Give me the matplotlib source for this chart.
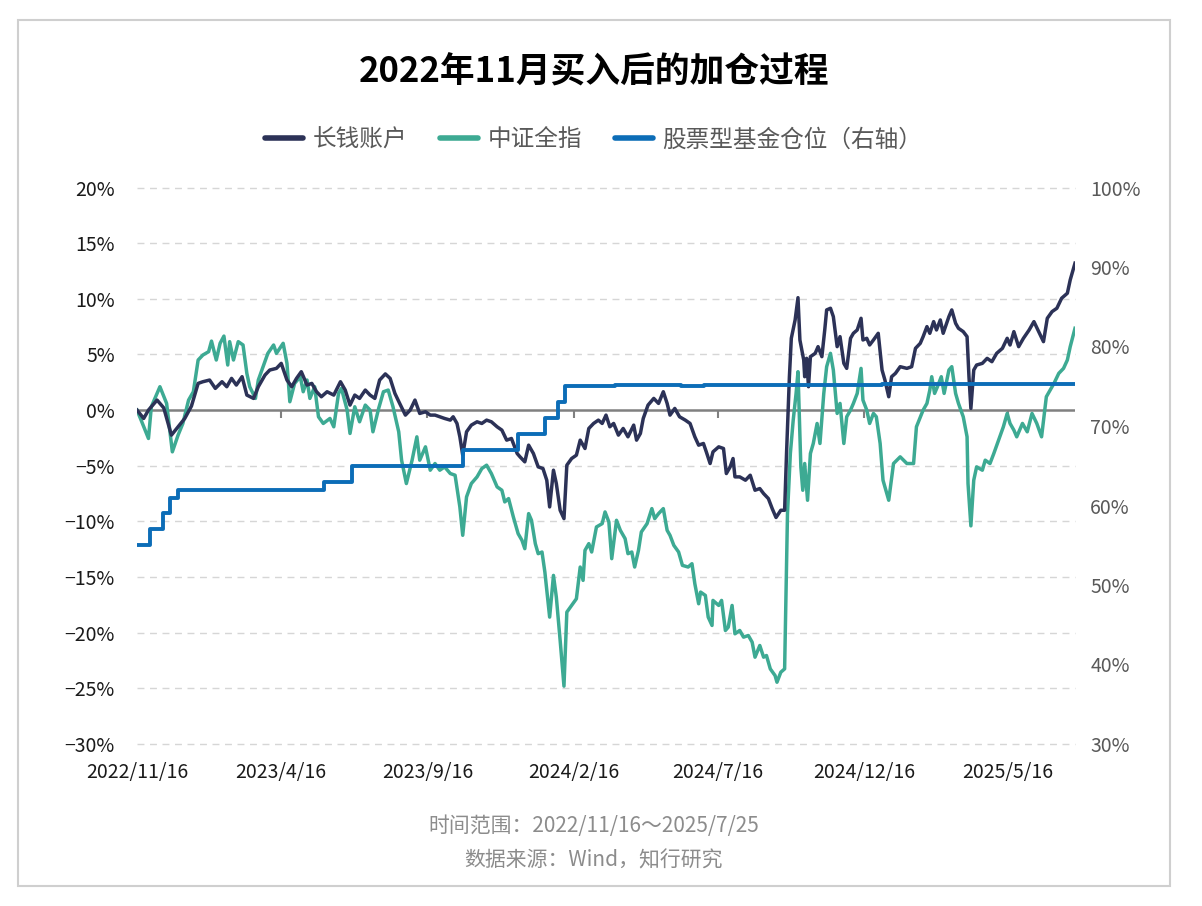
import numpy as np
import matplotlib
matplotlib.use("Agg")
import matplotlib.pyplot as plt
from matplotlib.patches import Rectangle

plt.rcParams["font.family"] = ["Noto Sans CJK SC", "DejaVu Sans"]

START = np.datetime64("2022-11-16")

# 长钱账户: days since 2022/11/16 and cumulative return (%)
acct_day = [0, 7, 12, 21, 28, 36, 43, 50, 57, 64, 69, 76, 82, 89, 94, 99, 104, 110, 115, 122,
            127, 134, 139, 146, 151, 157, 162, 167, 172, 178, 183, 188, 193, 199, 206, 213, 218, 223, 228, 233,
            239, 244, 249, 254, 260, 265, 270, 275, 281, 286, 291, 296, 302, 307, 312, 317, 322, 328, 331, 335,
            338, 341, 345, 350, 356, 361, 366, 371, 377, 382, 387, 392, 398, 401, 406, 410, 415, 420, 425, 429,
            432, 436, 439, 443, 447, 450, 455, 460, 464, 469, 473, 478, 483, 487, 491, 495, 499, 504, 509, 514,
            520, 523, 527, 530, 535, 541, 546, 551, 555, 558, 563, 568, 574, 579, 584, 588, 593, 596, 600, 603,
            609, 614, 617, 621, 624, 626, 631, 637, 642, 647, 652, 656, 661, 665, 669, 674, 678, 680, 683, 685,
            689, 692, 694, 698, 699, 701, 703, 705, 710, 713, 717, 720, 722, 726, 729, 733, 736, 740, 743, 747,
            750, 754, 758, 760, 764, 767, 771, 776, 780, 783, 787, 790, 794, 799, 806, 811, 815, 820, 823, 827,
            830, 834, 837, 841, 844, 850, 853, 857, 860, 865, 869, 871, 873, 876, 879, 885, 890, 895, 900, 906,
            911, 914, 918, 923, 928, 934, 939, 944, 949, 953, 958, 963, 968, 974, 977, 982]
acct_ret = [0.0, -0.75, 0.0, 0.9, 0.2, -2.25, -1.5, -0.75, 0.36, 2.4, 2.55, 2.7, 1.95, 2.55, 2.1, 2.85, 2.25, 3.0, 1.35, 1.05,
            2.1, 3.15, 3.6, 3.75, 4.2, 2.7, 2.1, 2.85, 3.45, 2.25, 2.4, 1.65, 1.2, 1.65, 1.35, 2.55, 1.8, 0.45, 1.35, 1.05,
            1.8, 1.35, 1.05, 2.7, 3.25, 2.85, 1.5, 0.6, -0.45, 0.0, 0.9, -0.3, -0.15, -0.45, -0.45, -0.6, -0.75, -0.9, -0.6, -1.2,
            -2.4, -4.05, -1.95, -1.35, -1.05, -1.2, -0.9, -1.05, -1.5, -1.8, -2.7, -2.55, -3.9, -4.2, -4.65, -3.15, -3.9, -5.1, -5.25, -6.3,
            -8.7, -5.4, -6.6, -9.0, -9.75, -4.95, -4.35, -4.05, -2.7, -3.45, -1.65, -1.2, -0.9, -1.2, -0.45, -1.5, -1.2, -2.25, -1.65, -2.4,
            -1.35, -2.7, -2.1, -0.75, 0.45, 1.05, 0.6, 1.65, 0.6, -0.45, 0.15, -0.6, -0.9, -1.2, -2.4, -3.15, -3.0, -3.75, -4.8, -3.75,
            -3.3, -3.45, -5.7, -5.1, -4.35, -6.0, -6.0, -6.3, -5.85, -7.2, -7.05, -7.5, -7.95, -8.85, -9.65, -9.0, -9.0, -3.9, 3.0, 6.45,
            8.1, 10.1, 6.3, 4.5, 3.0, 4.65, 2.1, 4.8, 5.1, 5.7, 4.8, 7.2, 9.0, 9.15, 8.4, 5.7, 6.6, 4.2, 3.75, 6.45,
            6.9, 7.2, 8.25, 6.3, 6.45, 5.85, 6.3, 6.9, 3.6, 2.7, 1.2, 3.0, 3.3, 3.9, 3.75, 3.9, 5.55, 6.0, 6.6, 7.5,
            6.9, 7.95, 7.2, 8.1, 6.9, 8.4, 9.0, 7.8, 7.35, 7.05, 6.6, 3.0, 0.15, 3.6, 4.05, 4.2, 4.65, 4.35, 5.1, 5.55,
            6.45, 5.85, 7.05, 5.7, 6.45, 7.2, 7.95, 7.05, 6.15, 8.25, 8.85, 9.15, 10.05, 10.5, 11.7, 13.2]

# 中证全指: days since 2022/11/16 and cumulative return (%)
csi_day = [0, 5, 12, 15, 24, 31, 37, 43, 48, 54, 59, 64, 69, 75, 78, 83, 87, 91, 95, 97,
           101, 106, 111, 115, 118, 124, 127, 132, 137, 143, 146, 153, 157, 160, 165, 171, 174, 178, 181, 186,
           190, 195, 202, 206, 211, 214, 220, 223, 228, 233, 239, 244, 247, 253, 258, 263, 268, 274, 277, 282,
           288, 293, 296, 302, 307, 312, 317, 322, 328, 333, 338, 341, 345, 350, 356, 361, 366, 371, 377, 382,
           385, 389, 394, 399, 403, 406, 410, 413, 417, 420, 424, 427, 432, 436, 439, 443, 447, 450, 455, 460,
           464, 467, 469, 473, 476, 481, 487, 490, 494, 497, 502, 506, 511, 514, 518, 521, 525, 528, 534, 539,
           542, 546, 551, 555, 558, 562, 567, 571, 577, 581, 584, 588, 590, 595, 598, 602, 603, 609, 612, 616,
           619, 623, 626, 631, 635, 640, 644, 647, 652, 656, 659, 663, 668, 670, 674, 678, 681, 684, 687, 690,
           692, 695, 697, 699, 702, 705, 708, 712, 715, 719, 722, 726, 729, 733, 736, 740, 743, 747, 750, 754,
           758, 760, 764, 767, 771, 774, 778, 781, 787, 792, 799, 806, 813, 816, 823, 827, 830, 832, 835, 838,
           842, 845, 850, 853, 857, 860, 865, 869, 870, 873, 876, 879, 885, 888, 893, 897, 902, 907, 911, 914,
           918, 921, 927, 932, 937, 942, 947, 952, 956, 960, 965, 970, 974, 977, 982]
csi_ret = [0.0, -1.05, -2.55, 0.3, 2.1, 0.6, -3.75, -2.25, -1.2, 0.9, 1.65, 4.5, 4.95, 5.25, 6.2, 4.5, 6.0, 6.65, 4.05, 6.15,
           4.5, 6.15, 5.85, 3.3, 2.1, 1.05, 2.7, 3.9, 5.1, 5.85, 5.1, 6.0, 4.2, 0.75, 2.4, 3.0, 1.65, 2.7, 1.05, 2.1,
           -0.6, -1.2, -0.75, -1.5, 1.5, 1.95, 0.0, -2.1, 0.3, -1.05, 0.45, 0.0, -1.95, 0.15, 1.65, 1.8, 0.3, -1.95, -4.5, -6.6,
           -4.5, -2.4, -4.5, -3.3, -5.4, -4.8, -5.4, -5.1, -5.7, -5.85, -8.7, -11.25, -7.8, -6.6, -6.0, -5.25, -4.95, -5.7, -6.9, -7.2,
           -8.25, -7.95, -9.6, -11.1, -11.7, -12.45, -9.3, -9.9, -12.0, -12.9, -12.75, -14.55, -18.6, -14.85, -16.8, -20.7, -24.8, -18.15, -17.55, -16.95,
           -14.1, -15.3, -12.6, -12.0, -12.75, -10.5, -10.2, -9.15, -10.05, -13.35, -9.9, -10.8, -11.55, -12.9, -12.75, -14.1, -12.6, -10.95, -10.2, -8.85,
           -9.75, -9.3, -8.85, -10.8, -11.25, -12.15, -12.75, -13.95, -14.1, -13.8, -15.6, -17.4, -16.35, -16.65, -18.6, -19.35, -17.1, -17.55, -17.1, -19.8,
           -19.5, -17.55, -20.1, -19.8, -20.4, -20.25, -20.85, -22.2, -21.15, -22.2, -22.05, -23.25, -23.85, -24.45, -23.55, -23.25, -9.3, -3.9, -0.9, 1.5,
           3.45, -5.1, -7.2, -4.8, -8.1, -3.9, -3.0, -1.2, -3.0, 1.5, 3.9, 5.1, 3.6, -0.3, 0.6, -3.0, -0.6, 0.0, 0.6, 1.5,
           3.75, 0.9, 0.0, -1.2, -0.3, -0.6, -3.0, -6.3, -8.1, -4.8, -4.2, -4.8, -4.8, -1.5, 0.0, 0.6, 1.8, 3.0, 1.5, 2.1,
           3.0, 1.5, 3.6, 3.9, 1.5, 0.6, -0.6, -2.4, -6.6, -10.4, -6.3, -5.1, -5.4, -4.5, -4.8, -3.9, -2.7, -1.5, -0.3, -1.2,
           -1.8, -2.4, -1.2, -1.95, -0.3, -1.2, -2.4, 1.2, 1.8, 2.4, 3.3, 3.75, 4.5, 5.7, 7.35]

# 股票型基金仓位 (right axis, %)
pos_day = [0, 14, 27, 35, 43, 196, 225, 341, 399, 427, 441, 448, 500, 570, 594, 780, 982]
pos_val = [55, 57, 59, 61, 62, 63, 65, 67, 69, 71, 73, 75, 75.2, 75.0, 75.1, 75.3, 75.3]

tick_dates = ["2022-11-16", "2023-04-16", "2023-09-16", "2024-02-16", "2024-07-16", "2024-12-16", "2025-05-16"]
tick_labels = ["2022/11/16", "2023/4/16", "2023/9/16", "2024/2/16", "2024/7/16", "2024/12/16", "2025/5/16"]
left_ticks = [-30, -25, -20, -15, -10, -5, 0, 5, 10, 15, 20]
right_ticks = [30, 40, 50, 60, 70, 80, 90, 100]


def to_dates(days):
    return START + np.array(days).astype("timedelta64[D]")


fig = plt.figure(figsize=(12.02, 9.06), dpi=100)
fig.patches.append(Rectangle((18 / 1202, 20 / 906), 1152 / 1202, 866 / 906,
                             transform=fig.transFigure, fill=False,
                             edgecolor="#CFCFCF", linewidth=1.5))

ax1 = fig.add_axes([137 / 1202, 1 - 744 / 906, 938 / 1202, 556.5 / 906])
ax2 = ax1.twinx()

# grid and zero line
for v in left_ticks:
    if v != 0:
        ax1.axhline(v, color="#D6D6D6", linestyle=(0, (5, 4)), linewidth=1, zorder=0, clip_on=False)
ax1.axhline(0, color="#808080", linewidth=1.8, zorder=1)
tks = np.array(tick_dates, dtype="datetime64[D]")
ax1.vlines(tks[1:], -0.75, 0, color="#808080", linewidth=1.5, zorder=1)

l1, = ax1.plot(to_dates(acct_day), acct_ret, color="#2C3257", linewidth=2.5, zorder=3, label="长钱账户")
l2, = ax1.plot(to_dates(csi_day), csi_ret, color="#3DAA93", linewidth=2.5, zorder=2, label="中证全指")
l3, = ax2.plot(to_dates(pos_day), pos_val, color="#0C6DB7", linewidth=2.8, drawstyle="steps-post",
               label="股票型基金仓位（右轴）")

ax1.set_xlim(START, START + np.timedelta64(982, "D"))
ax1.set_ylim(-30, 20)
ax2.set_ylim(30, 100)

ax1.set_xticks(tks)
ax1.set_xticklabels(tick_labels, fontsize=14, color="#1A1A1A")
ax1.set_yticks(left_ticks)
ax1.set_yticklabels([f"{v}%".replace("-", "−") for v in left_ticks], fontsize=14, color="#1A1A1A")
ax2.set_yticks(right_ticks)
ax2.set_yticklabels([f"{v}%" for v in right_ticks], fontsize=14, color="#595959")

ax1.tick_params(axis="x", length=0, pad=13)
ax1.tick_params(axis="y", length=0, pad=16)
ax2.tick_params(axis="y", length=0, pad=11)
for ax in (ax1, ax2):
    for s in ax.spines.values():
        s.set_visible(False)

fig.text(0.494, 1 - 72 / 906, "2022年11月买入后的加仓过程", ha="center", va="center",
         fontsize=25, fontweight="bold", color="#000000")

leg = fig.legend(handles=[l1, l2, l3], loc="center", bbox_to_anchor=(0.494, 1 - 140 / 906),
                 ncol=3, frameon=False, fontsize=17, handlelength=1.6, handletextpad=0.4,
                 columnspacing=1.4)
for t in leg.get_texts():
    t.set_color("#595959")
for h in leg.legend_handles:
    h.set_linewidth(4)
    h.set_solid_capstyle("round")

fig.text(0.494, 1 - 826 / 906, "时间范围：2022/11/16～2025/7/25", ha="center", va="center",
         fontsize=15, color="#8C8C8C")
fig.text(0.494, 1 - 860 / 906, "数据来源：Wind，知行研究", ha="center", va="center",
         fontsize=15, color="#8C8C8C")

fig.savefig("out.png", dpi=100)
